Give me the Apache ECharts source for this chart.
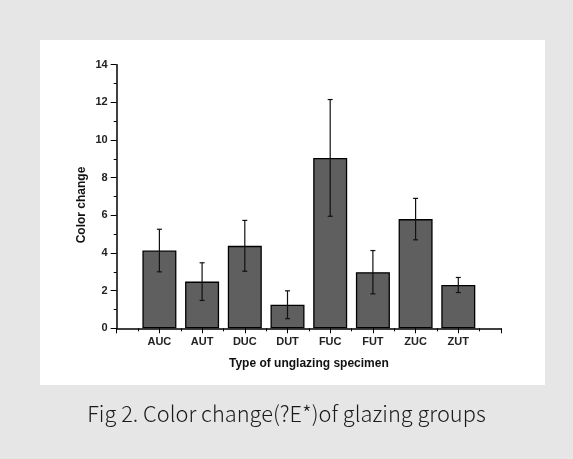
<!DOCTYPE html>
<html>
<head>
<meta charset="utf-8">
<script src="https://cdn.jsdelivr.net/npm/echarts@6/dist/echarts.min.js"></script>
<style>
  html, body { margin: 0; padding: 0; background: #e6e6e6; }
  #chart { width: 573px; height: 459px; }
</style>
</head>
<body>
<div id="chart"></div>
<script>
// specimen groups and their mean colour change with deviation
const categories = ['AUC', 'AUT', 'DUC', 'DUT', 'FUC', 'FUT', 'ZUC', 'ZUT']
const means = [4.13, 2.48, 4.38, 1.25, 9.05, 2.98, 5.8, 2.3]
const errors = [1.13, 1.0, 1.35, 0.74, 3.1, 1.15, 1.1, 0.4]

const barData = means.map((v, i) => [i + 1, v])
const errData = means.map((v, i) => [i + 1, v - errors[i], v + errors[i]])

const font = 'Liberation Sans, Arial, sans-serif'
const chart = echarts.init(document.getElementById('chart'))

const option = {
  backgroundColor: '#e6e6e6',
  animation: false,
  title: {
    text: 'Fig 2. Color change(?E*)of glazing groups',
    left: 'center',
    top: 398,
    textStyle: {
      fontFamily: 'Noto Sans CJK KR, Noto Sans, sans-serif',
      fontWeight: 300,
      fontSize: 21.8,
      color: '#1a1a1a'
    }
  },
  graphic: [
    {
      type: 'rect',
      z: -10,
      shape: { x: 40, y: 40, width: 505, height: 345 },
      style: { fill: '#ffffff' }
    }
  ],
  grid: {
    left: 116.7,
    right: 72,
    top: 64.7,
    bottom: 130.7
  },
  xAxis: {
    type: 'value',
    min: 0,
    max: 9,
    interval: 1,
    name: 'Type of unglazing specimen',
    nameLocation: 'middle',
    nameGap: 29,
    nameTextStyle: { fontFamily: font, fontWeight: 'bold', fontSize: 12, color: '#111' },
    axisLine: { show: true, lineStyle: { color: '#000', width: 1.5 } },
    axisTick: { show: true, length: 5, lineStyle: { color: '#000', width: 1 } },
    minorTick: { show: true, splitNumber: 2, length: 3, lineStyle: { color: '#000', width: 1 } },
    splitLine: { show: false },
    minorSplitLine: { show: false },
    axisLabel: {
      margin: 8,
      fontFamily: font,
      fontWeight: 'bold',
      fontSize: 11,
      color: '#222',
      formatter: (v) => categories[v - 1] || ''
    }
  },
  yAxis: {
    type: 'value',
    min: 0,
    max: 14,
    interval: 2,
    name: 'Color change',
    nameLocation: 'middle',
    nameGap: 29,
    nameMoveOverlap: false,
    nameTextStyle: {
      fontFamily: font,
      fontWeight: 'bold',
      fontSize: 12,
      color: '#111',
      padding: [0, 17, 0, 0]
    },
    axisLine: { show: true, lineStyle: { color: '#000', width: 1.5 } },
    axisTick: { show: true, length: 6, lineStyle: { color: '#000', width: 1 } },
    minorTick: { show: true, splitNumber: 2, length: 3, lineStyle: { color: '#000', width: 1 } },
    splitLine: { show: false },
    minorSplitLine: { show: false },
    axisLabel: {
      margin: 9,
      fontFamily: font,
      fontWeight: 'bold',
      fontSize: 11,
      color: '#222'
    }
  },
  series: [
    {
      type: 'bar',
      data: barData,
      barWidth: 34,
      itemStyle: {
        color: '#5f5f5f',
        borderColor: '#000',
        borderWidth: 1.3
      }
    },
    {
      type: 'custom',
      data: errData,
      z: 5,
      renderItem: (params, api) => {
        const x = api.value(0)
        const lo = api.coord([x, api.value(1)])
        const hi = api.coord([x, api.value(2)])
        const hw = 2.5
        const style = { stroke: '#111', lineWidth: 1.2 }
        return {
          type: 'group',
          children: [
            { type: 'line', shape: { x1: hi[0], y1: hi[1], x2: lo[0], y2: lo[1] }, style },
            { type: 'line', shape: { x1: hi[0] - hw, y1: hi[1], x2: hi[0] + hw, y2: hi[1] }, style },
            { type: 'line', shape: { x1: lo[0] - hw, y1: lo[1], x2: lo[0] + hw, y2: lo[1] }, style }
          ]
        }
      }
    }
  ]
}

chart.setOption(option)
</script>
</body>
</html>
